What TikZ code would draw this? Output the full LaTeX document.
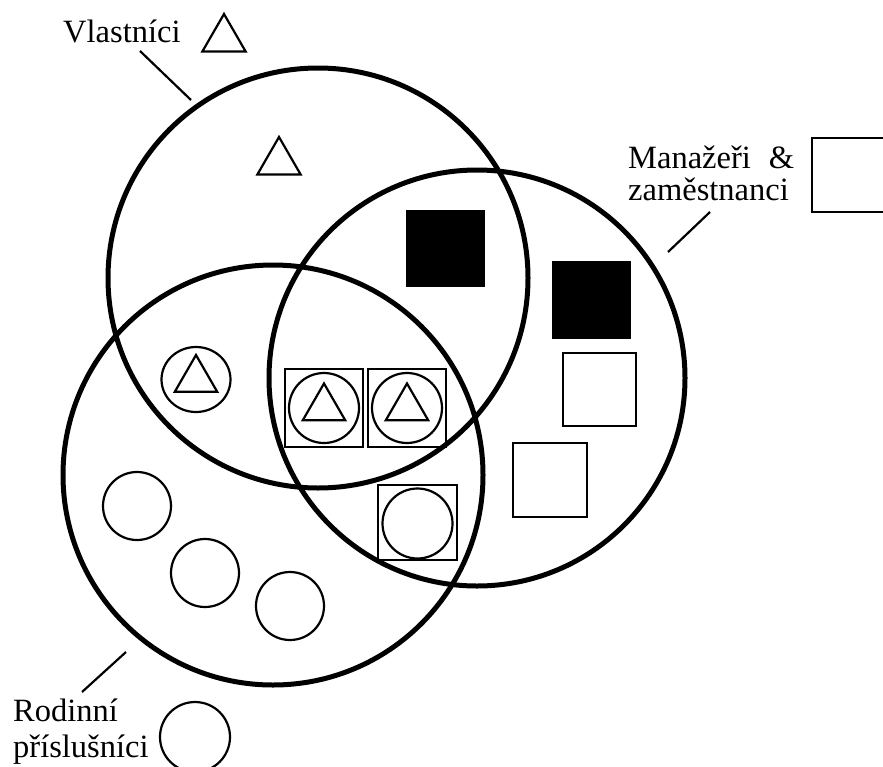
\documentclass[tikz,border=0pt]{standalone}
\usepackage{fontspec}
\setmainfont{Liberation Serif}
\usetikzlibrary{shapes.geometric,positioning}

\tikzset{
  ring/.style={circle,draw,line width=5pt,inner sep=0pt,outer sep=0pt,minimum size=420pt},
  member/.style={circle,draw,line width=2.2pt,inner sep=0pt,minimum size=68pt},
  box/.style={rectangle,draw,line width=2.2pt,inner sep=0pt,minimum size=76pt},
  solidbox/.style={box,fill=black},
  tri/.style={regular polygon,regular polygon sides=3,draw,line width=2.2pt,inner sep=0pt,minimum size=50pt},
  legendtext/.style={anchor=base west,inner sep=0pt,font=\fontsize{32.5}{37}\selectfont},
  leader/.style={line width=2.2pt}
}

\begin{document}
\begin{tikzpicture}[x=1pt,y=-1pt]
    \useasboundingbox (0,0) rectangle (883,766);

    % the three groups
    \node[ring] (own) at (318,278) {};
    \node[ring,minimum size=416pt] (staff) at (477,378) {};
    \node[ring] (family) at (273,475) {};

    % legend
    \node[legendtext] (ownlabel) at (63,42) {Vlastníci};
    \node[tri] (ownsign) at (224,39) {};
    \node[legendtext] (stafflabel) at (628,168) {Manažeři\hspace{18pt}\&};
    \node[legendtext] (stafflabelb) at (628,200) {zaměstnanci};
    \node[box,minimum size=74pt] (staffsign) at (849,175) {};
    \node[legendtext] (familylabel) at (13,721) {Rodinní};
    \node[legendtext] (familylabelb) at (13,757) {příslušníci};
    \node[member,minimum size=70pt] (familysign) at (195,737) {};

    \coordinate (ownfrom) at (140,51);
    \coordinate (ownto) at (191,100);
    \coordinate (stafffrom) at (710,212);
    \coordinate (staffto) at (668,252);
    \coordinate (familyfrom) at (82,692);
    \coordinate (familyto) at (126,652);
    \draw[leader] (ownfrom) -- (ownto);
    \draw[leader] (stafffrom) -- (staffto);
    \draw[leader] (familyfrom) -- (familyto);

    % owners only
    \node[tri] (o1) at (279,162) {};

    % owners and staff
    \node[solidbox,minimum width=77pt,minimum height=75pt] (os1) at (445.5,248.5) {};

    % staff only
    \node[solidbox,minimum width=77pt] (s1) at (591.5,300) {};
    \node[box,minimum size=73pt] (s2) at (599.5,389.5) {};
    \node[box,minimum size=74pt] (s3) at (550,480) {};

    % owners and family
    \node[member,minimum width=69pt,minimum height=65pt,ellipse] (of1) at (196,379.5) {};
    \node[tri,minimum size=49pt] at (of1) {};

    % all three
    \foreach \i/\x in {1/324,2/407} {
      \node[box,minimum size=78pt] (ofs\i) at (\x,408) {};
      \node[member,minimum size=70pt] (ofsc\i) at (ofs\i) {};
      \node[tri,minimum size=49pt] at (ofsc\i) {};
    }

    % staff and family
    \node[box,minimum width=79pt,minimum height=75pt] (sf1) at (417.5,522.5) {};
    \node[member,minimum size=70pt] (sfc1) at (417.5,523.5) {};

    % family only
    \node[member] (f1) at (137,506) {};
    \node[member] (f2) at (205,573) {};
    \node[member] (f3) at (290,606) {};

\end{tikzpicture}
\end{document}
